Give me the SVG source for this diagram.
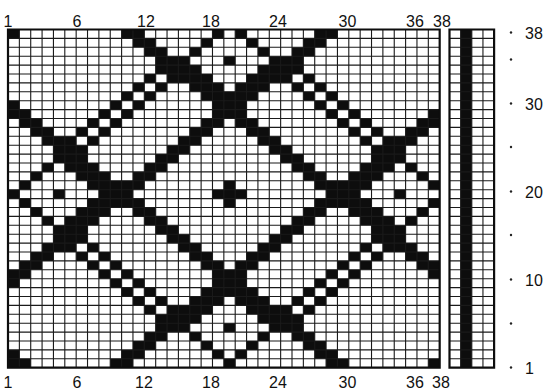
<svg xmlns="http://www.w3.org/2000/svg" width="552" height="390" viewBox="0 0 552 390">
<style>
.t{font-family:"Liberation Sans",Arial,sans-serif;font-size:16px;fill:#111}
.b{fill:#0d0d0d}
.g{stroke:#1a1a1a;stroke-width:1.1;fill:none}
.bd{stroke:#0d0d0d;stroke-width:2.2;fill:none}
.dot{fill:#222}
</style>
<rect x="0" y="0" width="552" height="390" fill="#fff"/>
<g id="draft" transform="translate(8,29.5) scale(11.36,8.9)">
<rect x="0" y="0" width="38" height="38" fill="#fff"/>
<path class="b" d="M0 0h1v1h-1zM10 0h2v1h-2zM18 0h1v1h-1zM20 0h1v1h-1zM27 0h2v1h-2z
M11 1h2v1h-2zM17 1h1v1h-1zM21 1h1v1h-1zM26 1h2v1h-2z
M12 2h2v1h-2zM16 2h1v1h-1zM22 2h1v1h-1zM25 2h2v1h-2z
M13 3h3v1h-3zM19 3h1v1h-1zM23 3h3v1h-3z
M13 4h4v1h-4zM22 4h4v1h-4z
M12 5h1v1h-1zM14 5h4v1h-4zM21 5h4v1h-4zM26 5h1v1h-1z
M11 6h1v1h-1zM13 6h1v1h-1zM16 6h3v1h-3zM20 6h3v1h-3zM25 6h1v1h-1zM27 6h1v1h-1z
M10 7h1v1h-1zM12 7h1v1h-1zM17 7h5v1h-5zM26 7h1v1h-1zM28 7h1v1h-1z
M0 8h1v1h-1zM9 8h1v1h-1zM11 8h1v1h-1zM18 8h3v1h-3zM27 8h1v1h-1zM29 8h1v1h-1z
M0 9h2v1h-2zM8 9h1v1h-1zM10 9h1v1h-1zM18 9h3v1h-3zM28 9h1v1h-1zM30 9h1v1h-1zM37 9h1v1h-1z
M1 10h2v1h-2zM7 10h1v1h-1zM9 10h1v1h-1zM17 10h2v1h-2zM20 10h2v1h-2zM29 10h1v1h-1zM31 10h1v1h-1zM36 10h2v1h-2z
M2 11h2v1h-2zM6 11h1v1h-1zM8 11h1v1h-1zM16 11h2v1h-2zM21 11h2v1h-2zM30 11h1v1h-1zM32 11h1v1h-1zM35 11h2v1h-2z
M3 12h3v1h-3zM7 12h1v1h-1zM15 12h2v1h-2zM22 12h2v1h-2zM31 12h1v1h-1zM33 12h3v1h-3z
M4 13h3v1h-3zM14 13h2v1h-2zM23 13h2v1h-2zM32 13h3v1h-3z
M4 14h3v1h-3zM13 14h2v1h-2zM24 14h2v1h-2zM32 14h3v1h-3z
M3 15h1v1h-1zM5 15h3v1h-3zM12 15h2v1h-2zM25 15h2v1h-2zM31 15h3v1h-3zM35 15h1v1h-1z
M2 16h1v1h-1zM6 16h3v1h-3zM11 16h2v1h-2zM26 16h2v1h-2zM30 16h3v1h-3zM36 16h1v1h-1z
M1 17h1v1h-1zM7 17h5v1h-5zM19 17h1v1h-1zM27 17h5v1h-5zM37 17h1v1h-1z
M0 18h1v1h-1zM4 18h1v1h-1zM8 18h3v1h-3zM18 18h3v1h-3zM28 18h3v1h-3zM34 18h1v1h-1z
M1 19h1v1h-1zM7 19h5v1h-5zM19 19h1v1h-1zM27 19h5v1h-5zM37 19h1v1h-1z
M2 20h1v1h-1zM6 20h3v1h-3zM11 20h2v1h-2zM26 20h2v1h-2zM30 20h3v1h-3zM36 20h1v1h-1z
M3 21h1v1h-1zM5 21h3v1h-3zM12 21h2v1h-2zM25 21h2v1h-2zM31 21h3v1h-3zM35 21h1v1h-1z
M4 22h3v1h-3zM13 22h2v1h-2zM24 22h2v1h-2zM32 22h3v1h-3z
M4 23h3v1h-3zM14 23h2v1h-2zM23 23h2v1h-2zM32 23h3v1h-3z
M3 24h3v1h-3zM7 24h1v1h-1zM15 24h2v1h-2zM22 24h2v1h-2zM31 24h1v1h-1zM33 24h3v1h-3z
M2 25h2v1h-2zM6 25h1v1h-1zM8 25h1v1h-1zM16 25h2v1h-2zM21 25h2v1h-2zM30 25h1v1h-1zM32 25h1v1h-1zM35 25h2v1h-2z
M1 26h2v1h-2zM7 26h1v1h-1zM9 26h1v1h-1zM17 26h2v1h-2zM20 26h2v1h-2zM29 26h1v1h-1zM31 26h1v1h-1zM36 26h2v1h-2z
M0 27h2v1h-2zM8 27h1v1h-1zM10 27h1v1h-1zM18 27h3v1h-3zM28 27h1v1h-1zM30 27h1v1h-1zM37 27h1v1h-1z
M0 28h1v1h-1zM9 28h1v1h-1zM11 28h1v1h-1zM18 28h3v1h-3zM27 28h1v1h-1zM29 28h1v1h-1z
M10 29h1v1h-1zM12 29h1v1h-1zM17 29h5v1h-5zM26 29h1v1h-1zM28 29h1v1h-1z
M11 30h1v1h-1zM13 30h1v1h-1zM16 30h3v1h-3zM20 30h3v1h-3zM25 30h1v1h-1zM27 30h1v1h-1z
M12 31h1v1h-1zM14 31h4v1h-4zM21 31h4v1h-4zM26 31h1v1h-1z
M13 32h4v1h-4zM22 32h4v1h-4z
M13 33h3v1h-3zM19 33h1v1h-1zM23 33h3v1h-3z
M12 34h2v1h-2zM16 34h1v1h-1zM22 34h1v1h-1zM25 34h2v1h-2z
M11 35h2v1h-2zM17 35h1v1h-1zM21 35h1v1h-1zM26 35h2v1h-2z
M0 36h1v1h-1zM10 36h2v1h-2zM18 36h1v1h-1zM20 36h1v1h-1zM27 36h2v1h-2z
M0 37h2v1h-2zM9 37h2v1h-2zM19 37h1v1h-1zM28 37h2v1h-2zM37 37h1v1h-1z"/>
<path class="g" vector-effect="non-scaling-stroke" d="M1 0V38M2 0V38M3 0V38M4 0V38M5 0V38M6 0V38M7 0V38M8 0V38M9 0V38M10 0V38M11 0V38M12 0V38M13 0V38M14 0V38M15 0V38M16 0V38M17 0V38M18 0V38M19 0V38M20 0V38M21 0V38M22 0V38M23 0V38M24 0V38M25 0V38M26 0V38M27 0V38M28 0V38M29 0V38M30 0V38M31 0V38M32 0V38M33 0V38M34 0V38M35 0V38M36 0V38M37 0V38M0 1H38M0 2H38M0 3H38M0 4H38M0 5H38M0 6H38M0 7H38M0 8H38M0 9H38M0 10H38M0 11H38M0 12H38M0 13H38M0 14H38M0 15H38M0 16H38M0 17H38M0 18H38M0 19H38M0 20H38M0 21H38M0 22H38M0 23H38M0 24H38M0 25H38M0 26H38M0 27H38M0 28H38M0 29H38M0 30H38M0 31H38M0 32H38M0 33H38M0 34H38M0 35H38M0 36H38M0 37H38"/>
<rect class="bd" vector-effect="non-scaling-stroke" x="0" y="0" width="38" height="38"/>
</g>
<g id="side" transform="translate(449.5,29.5) scale(11.15,8.9)">
<rect x="0" y="0" width="4" height="38" fill="#fff"/>
<rect class="b" x="1" y="0" width="1" height="38"/>
<path class="g" vector-effect="non-scaling-stroke" d="M1 0V38M2 0V38M3 0V38M0 1H4M0 2H4M0 3H4M0 4H4M0 5H4M0 6H4M0 7H4M0 8H4M0 9H4M0 10H4M0 11H4M0 12H4M0 13H4M0 14H4M0 15H4M0 16H4M0 17H4M0 18H4M0 19H4M0 20H4M0 21H4M0 22H4M0 23H4M0 24H4M0 25H4M0 26H4M0 27H4M0 28H4M0 29H4M0 30H4M0 31H4M0 32H4M0 33H4M0 34H4M0 35H4M0 36H4M0 37H4"/>
<rect class="bd" vector-effect="non-scaling-stroke" x="0" y="0" width="4" height="38"/>
</g>
<g id="top-labels" text-anchor="middle">
<text class="t" x="8" y="26.5">1</text>
<text class="t" x="77" y="26.5">6</text>
<text class="t" x="146" y="26.5">12</text>
<text class="t" x="211" y="26.5">18</text>
<text class="t" x="278" y="26.5">24</text>
<text class="t" x="347.5" y="26.5">30</text>
<text class="t" x="415" y="26.5">36</text>
<text class="t" x="442" y="26.5">38</text>
</g>
<g id="bottom-labels" text-anchor="middle">
<text class="t" x="8" y="387.5">1</text>
<text class="t" x="77" y="387.5">6</text>
<text class="t" x="144" y="387.5">12</text>
<text class="t" x="211" y="387.5">18</text>
<text class="t" x="278" y="387.5">24</text>
<text class="t" x="347.5" y="387.5">30</text>
<text class="t" x="415" y="387.5">36</text>
<text class="t" x="441" y="387.5">38</text>
</g>
<g id="right-labels">
<circle class="dot" cx="511" cy="32.5" r="1.2"/>
<circle class="dot" cx="511" cy="59.5" r="1.2"/>
<circle class="dot" cx="511" cy="103.5" r="1.2"/>
<circle class="dot" cx="511" cy="147" r="1.2"/>
<circle class="dot" cx="511" cy="191.5" r="1.2"/>
<circle class="dot" cx="511" cy="235" r="1.2"/>
<circle class="dot" cx="511" cy="279.5" r="1.2"/>
<circle class="dot" cx="511" cy="323.5" r="1.2"/>
<circle class="dot" cx="511" cy="367.5" r="1.2"/>
<text class="t" x="525" y="38.5">38</text>
<text class="t" x="525" y="109.5">30</text>
<text class="t" x="525" y="197.5">20</text>
<text class="t" x="525" y="286">10</text>
<text class="t" x="525" y="373.5">1</text>
</g>
</svg>
